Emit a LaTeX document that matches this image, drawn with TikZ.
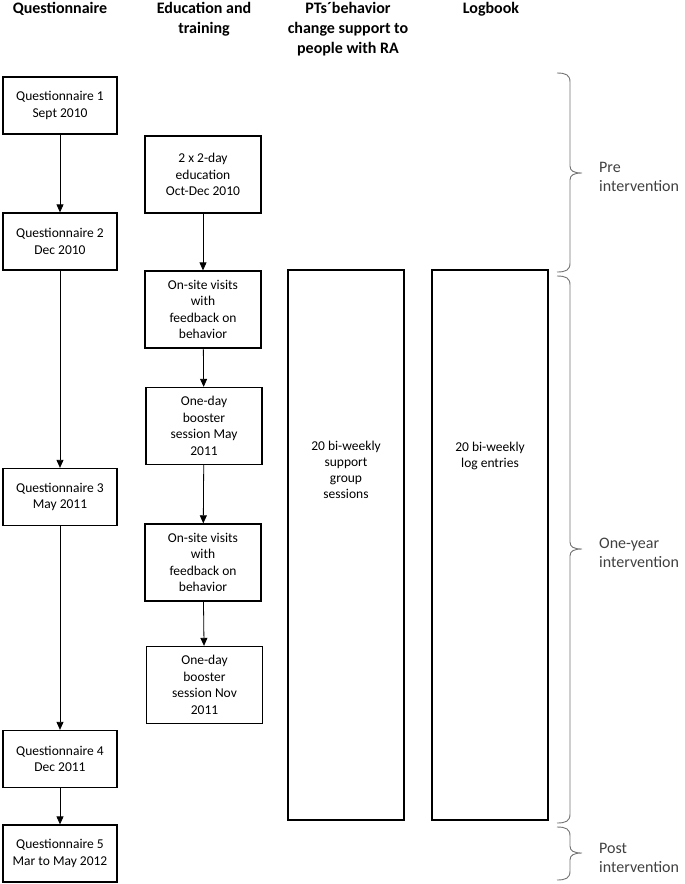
\documentclass[tikz,border=0pt]{standalone}
\usepackage{fontspec}
\setmainfont{Carlito}
\usetikzlibrary{arrows.meta}
\newcommand{\phasebrace}[4]{%
  \draw[brc] (#4,#1) .. controls (#4+9,#1) and (#4+13,#1+2) .. (#4+13,#1+9)
    -- (#4+13,#2-7) .. controls (#4+13,#2-2) and (#4+17,#2) .. (#4+25,#2)
    .. controls (#4+17,#2) and (#4+13,#2+2) .. (#4+13,#2+7)
    -- (#4+13,#3-9) .. controls (#4+13,#3-2) and (#4+9,#3) .. (#4,#3);}
\begin{document}
\begin{tikzpicture}[x=1pt,y=-1pt,
  box/.style={draw=black,line width=1.3pt,inner sep=0pt,align=center,
    font=\fontsize{13.5}{16.5}\selectfont},
  qbox/.style={box,minimum width=114pt,minimum height=57pt},
  ebox/.style={box,minimum width=116pt,minimum height=77pt},
  tallbox/.style={draw=black,line width=1.3pt,minimum width=116pt,minimum height=550pt,inner sep=0pt},
  body/.style={align=center,inner sep=0pt,font=\fontsize{13.5}{16}\selectfont},
  head/.style={align=center,inner sep=0pt,anchor=north,font=\fontsize{16}{20}\selectfont\bfseries},
  conn/.style={line width=0.8pt,-{Triangle[width=7pt,length=8pt]}},
  brc/.style={draw=black!55,line width=0.9pt},
  blab/.style={anchor=north west,align=left,inner sep=0pt,text=black!75,font=\fontsize{16}{19}\selectfont}
]
\useasboundingbox (0,0) rectangle (685,884);

% headings
\node[head] (h1) at (60,-1) {\strut Questionnaire};
\node[head] (h2) at (204,-1) {\strut Education and\\training};
\node[head] (h3) at (348,-1) {\strut PTs´behavior\\change support to\\people with RA};
\node[head] (h4) at (491,-1) {\strut Logbook};

% questionnaire column
\node[qbox] (q1) at (60,105.5) {Questionnaire 1\\Sept 2010};
\node[qbox] (q2) at (60,241.5) {Questionnaire 2\\Dec 2010};
\node[qbox] (q3) at (60,497) {Questionnaire 3\\May 2011};
\node[qbox] (q4) at (60,759) {Questionnaire 4\\Dec 2011};
\node[qbox] (q5) at (60,853.5) {Questionnaire 5\\Mar to May 2012};

% education column
\node[ebox] (e1) at (203,174.5) {2 x 2-day\\education\\Oct-Dec 2010};
\node[ebox] (e2) at (203,309.5) {On-site visits\\with\\feedback on\\behavior};
\node[ebox] (e3) at (204,426) {One-day\\booster\\session May\\2011};
\node[ebox] (e4) at (203,562.5) {On-site visits\\with\\feedback on\\behavior};
\node[ebox] (e5) at (204.5,685) {One-day\\booster\\session Nov\\2011};

% tall boxes
\node[tallbox] (pt) at (346,545) {};
\node[body] (ptt) at (346,470) {20 bi-weekly\\support\\group\\sessions};
\node[tallbox] (lg) at (490,545) {};
\node[body] (lgt) at (490,456) {20 bi-weekly\\log entries};

% connectors
\draw[conn] (q1) -- (q2);
\draw[conn] (q2) -- (q3);
\draw[conn] (q3) -- (q4);
\draw[conn] (q4) -- (q5);
\draw[conn] (e1) -- (e2);
\draw[conn] (e2) -- (e3);
\draw[conn] (e3) -- (e4);
\draw[conn] (e4) -- (e5);

% braces
\phasebrace{73}{173}{272}{557}
\phasebrace{276}{549}{823}{557}
\phasebrace{827}{853}{880}{557}
\node[blab] (l1) at (599,158.7) {\strut Pre\\intervention};
\node[blab] (l2) at (599,534.7) {\strut One-year\\intervention};
\node[blab] (l3) at (599,839.7) {\strut Post\\intervention};
\end{tikzpicture}
\end{document}
